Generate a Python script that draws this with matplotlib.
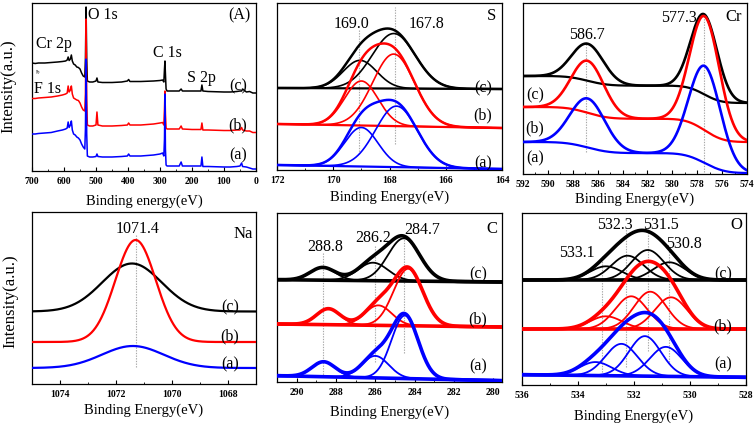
import numpy as np
import matplotlib
matplotlib.use("Agg")
import matplotlib.pyplot as plt
from matplotlib.ticker import MultipleLocator

plt.rcParams['font.family'] = ['Liberation Serif', 'DejaVu Serif']

W, H = 756, 427
BLACK, RED, BLUE = '#000000', '#ff0000', '#0000ff'
GUIDE = '#a8a8a8'

# ---------------- survey (A) ----------------
survey_ev = [700, 690, 680, 660, 640, 620, 605, 595, 590, 587,
             584, 580, 577, 574, 570, 565, 560, 555, 550, 545,
             540, 535, 533, 531, 529, 527, 520, 510, 500, 497,
             494, 480, 450, 420, 402, 398, 394, 360, 320, 300,
             292, 288, 286, 284.5, 283, 281, 278, 260, 240, 234,
             230, 200, 172, 169, 166, 150, 100, 80, 60, 50,
             45, 42, 30, 20, 10, 0]
survey_a = [37, 37, 37.5, 38, 38.5, 40, 41, 42, 43, 49,
            43.5, 46, 50, 41, 37, 36, 34, 33, 31, 27,
            24, 22, 42, 112, 37, 15, 14, 14, 14.5, 17,
            14.5, 14, 14, 14.5, 15, 17, 15, 15, 16, 17,
            18, 15, 32, 77, 22, 6, 5, 5, 5, 9,
            5, 5, 5, 14, 4.5, 4.5, 4, 4, 4.5, 5,
            8, 4.5, 4, 3, 2, 2]
survey_b = [72.5, 72.5, 73, 73.5, 74, 75, 76, 77, 78, 85,
            79, 81, 85, 77, 73, 72, 71, 70.5, 68, 64,
            61, 60, 77, 152, 72, 46, 45, 45, 46, 59,
            46, 45, 45, 45.5, 46, 48, 46, 46, 47, 48,
            48.5, 46, 62, 80, 57, 43, 42, 42, 42, 45,
            42, 41.5, 41.5, 48, 41, 41, 40.5, 40.5, 41, 41,
            43.5, 41, 40, 40, 38.5, 38.5]
survey_c = [108, 107.5, 108, 108, 108.5, 109, 109.5, 110, 111, 114,
            110.5, 112, 116, 110, 107, 106, 104, 103.5, 102, 98,
            95, 94, 112, 164, 112, 90, 89, 89, 90, 93,
            89, 88.5, 88.5, 89, 90, 91.5, 89.5, 89.5, 90, 90.5,
            91, 89, 102, 110, 97, 82, 80, 80, 80, 82,
            80, 80, 80, 86, 80, 79.5, 79, 79, 79.5, 80,
            80, 82, 79, 79.5, 78, 78]
survey_labels = ['Cr 2p', 'F 1s', 'O 1s', 'C 1s', 'S 2p']

# ---------------- S 2p ----------------
s_marks = [169.1, 167.8]
s_mark_labels = ['169.0', '167.8']
s_center = [[169.0, 167.75], [169.0, 167.85], [169.05, 167.85]]
s_amp = [[39, 61], [44.5, 72], [28, 55]]
s_fwhm = [[1.4, 1.75], [1.4, 1.75], [1.4, 1.8]]
s_base_left = [5, 46, 82]
s_base_right = [1, 42, 81]

# ---------------- Cr 2p ----------------
cr_marks = [586.9, 577.45]
cr_mark_labels = ['586.7', '577.3']
cr_center = [[586.8, 577.4], [586.8, 577.4], [586.8, 577.45]]
cr_amp = [[49, 97], [52, 114], [37, 80]]
cr_fwhm = [[3.3, 3.0], [3.1, 2.8], [3.0, 2.5]]
cr_bg_high = [32, 67, 98]
cr_bg_low = [1, 32, 71]

# ---------------- Na 1s ----------------
na_marks = [1071.3]
na_mark_labels = ['1071.4']
na_center = [1071.4, 1071.3, 1071.43]
na_amp = [22, 102, 48]
na_fwhm = [2.6, 1.7, 2.5]
na_base = [16, 42, 72.5]

# ---------------- C 1s ----------------
c_marks = [288.65, 286.02, 284.55]
c_mark_labels = ['288.8', '286.2', '284.7']
c_center = [[288.63, 286.0, 284.5], [288.39, 285.85, 284.33], [288.68, 286.12, 284.55]]
c_amp = [[15, 22, 63], [16, 20, 57], [12.7, 18, 42.7]]
c_fwhm = [[1.4, 1.6, 1.6], [1.4, 1.6, 1.75], [1.5, 1.8, 1.9]]
c_base_left = [6.3, 58, 102.3]
c_base_right = [1.3, 55, 100]

# ---------------- O 1s ----------------
o_marks = [533.13, 532.27, 531.51, 530.76]
o_mark_labels = ['533.1', '532.3', '531.5', '530.8']
o_center = [[533.37, 532.45, 531.61, 530.86], [533.0, 532.1, 531.42, 530.68],
            [533.0, 532.23, 531.51, 530.74]]
o_amp = [[13.5, 32, 40, 29.5], [12.7, 32.7, 37.3, 31.7], [13.7, 24.3, 30, 17.7]]
o_fwhm = [[1.35] * 4, [1.35] * 4, [1.35] * 4]
o_base_left = [10.3, 56, 105]
o_base_right = [7.7, 56, 105]

sample_labels = ['(a)', '(b)', '(c)']
colors = [BLUE, RED, BLACK]
zorders = [4, 3, 2]

fig = plt.figure(figsize=(W / 100, H / 100), dpi=100)


def make_ax(l, t, r, b):
    return fig.add_axes([l / W, 1 - b / H, (r - l) / W, (b - t) / H])


def style(ax, xlim, ylim, major, minor):
    ax.set_xlim(*xlim)
    ax.set_ylim(*ylim)
    ax.set_yticks([])
    ax.xaxis.set_major_locator(MultipleLocator(major))
    ax.xaxis.set_minor_locator(MultipleLocator(minor))
    ax.tick_params(axis='x', which='major', direction='in', length=3, width=0.8,
                   labelsize=7, pad=3.5)
    ax.tick_params(axis='x', which='minor', direction='in', length=1.8, width=0.6)
    for lab in ax.get_xticklabels():
        lab.set_fontweight('bold')
    for sp in ax.spines.values():
        sp.set_linewidth(0.9)


def xlabel(ax, text, yc, bottom, height):
    ax.set_xlabel(text, fontsize=10.5, va='center')
    ax.xaxis.set_label_coords(0.5, (bottom - yc) / height)


def ptext(x, y, s, size=11, **kw):
    fig.text(x / W, 1 - y / H, s, ha='center', va='center', fontsize=size, **kw)


def gauss(x, c, a, w):
    return a * np.exp(-4 * np.log(2) * ((x - c) / w) ** 2)


def fitted(ax, hi, lo, centers, amps, fwhms, bl, br, color, z,
           lw_env, lw_comp, lw_base, comps=True, base=True, shirley=False):
    x = np.linspace(hi, lo, 900)
    parts = [gauss(x, c, a, w) for c, a, w in zip(centers, amps, fwhms)]
    total = np.sum(parts, axis=0)
    if shirley:
        cum = np.cumsum(total[::-1])[::-1]
        frac = cum / cum[0]
        bg = br + (bl - br) * frac
    else:
        bg = bl + (br - bl) * (hi - x) / (hi - lo)
    if base:
        ax.plot(x, bg, color=color, lw=lw_base, zorder=z)
    if comps:
        for p in parts:
            ax.plot(x, bg + p, color=color, lw=lw_comp, zorder=z)
    ax.plot(x, bg + total, color=color, lw=lw_env, zorder=z)


def marks(ax, xs, ranges):
    for xv, (y0, y1) in zip(xs, ranges):
        ax.plot([xv, xv], [y0, y1], color=GUIDE, lw=0.8, ls=(0, (1.2, 1.2)), zorder=1)


# ---------- Panel A: survey ----------
axA = make_ax(32, 4, 256, 172)
for ys, col, z in zip([survey_a, survey_b, survey_c], colors, zorders):
    axA.plot(survey_ev, ys, color=col, lw=1.1, zorder=z)
style(axA, (700, 0), (0, 168), 100, 50)
xlabel(axA, 'Binding energy(eV)', 201.5, 172, 168)
axA.set_ylabel('Intensity(a.u.)', fontsize=12, va='center')
axA.yaxis.set_label_coords((8.5 - 32) / 224, (172 - 86) / 168)
axA.annotate('', xy=(690, 104), xytext=(676, 95),
             arrowprops=dict(arrowstyle='->', color='0.45', lw=0.6, mutation_scale=5))
ptext(54, 44, survey_labels[0], 11.5)
ptext(48, 89, survey_labels[1], 11.5)
ptext(103, 15, survey_labels[2], 11.5)
ptext(167, 53, survey_labels[3], 11.5)
ptext(201, 78, survey_labels[4], 11.5)
ptext(239, 15, '(A)', 11.5)
for lab, yy in zip(sample_labels, [155, 125, 86]):
    ptext(238, yy, lab, 11.5)

# ---------- Panel S ----------
axS = make_ax(277, 4, 502, 171)
for i in range(3):
    fitted(axS, 172, 164, s_center[i], s_amp[i], s_fwhm[i], s_base_left[i],
           s_base_right[i], colors[i], zorders[i], 1.8, 1.2, 1.6)
marks(axS, s_marks, [(16, 141), (26, 163)])
style(axS, (172, 164), (0, 167), 2, 1)
xlabel(axS, 'Binding Energy(eV)', 197, 171, 167)
ptext(352, 24, s_mark_labels[0], 11.5)
ptext(427, 24, s_mark_labels[1], 11.5)
ptext(492, 16, 'S', 12)
for lab, yy in zip(sample_labels, [163, 115, 88]):
    ptext(483, yy, lab, 11.5)

# ---------- Panel Cr ----------
axCr = make_ax(523, 4, 747, 175)
for i in range(3):
    fitted(axCr, 592, 574, cr_center[i], cr_amp[i], cr_fwhm[i], cr_bg_high[i],
           cr_bg_low[i], colors[i], zorders[i], 1.9, 1.9, 1.6, comps=False, shirley=True)
marks(axCr, cr_marks, [(22, 132), (2, 160)])
style(axCr, (592, 574), (0, 171), 2, 1)
xlabel(axCr, 'Binding Energy(eV)', 199, 175, 171)
ptext(587, 35, cr_mark_labels[0], 11.5)
ptext(679, 18, cr_mark_labels[1], 11.5)
ptext(734, 17, 'Cr', 12)
for lab, yy in zip(sample_labels, [158, 128, 95]):
    ptext(535, yy, lab, 11.5)

# ---------- Panel Na ----------
axNa = make_ax(32, 213, 256, 385)
for i in range(3):
    fitted(axNa, 1075, 1067, [na_center[i]], [na_amp[i]], [na_fwhm[i]], na_base[i],
           na_base[i], colors[i], zorders[i], 1.6, 1.6, 1.6, comps=False, base=False)
marks(axNa, na_marks, [(17, 150)])
style(axNa, (1075, 1067), (0, 172), 2, 1)
xlabel(axNa, 'Binding Energy(eV)', 410, 385, 172)
axNa.set_ylabel('Intensity(a.u.)', fontsize=12, va='center')
axNa.yaxis.set_label_coords((10 - 32) / 224, (385 - 301) / 172)
ptext(138, 229, na_mark_labels[0], 11.5)
ptext(243, 234, 'Na', 12)
for lab, yy in zip(sample_labels, [364, 336, 307]):
    ptext(230, yy, lab, 11.5)

# ---------- Panel C ----------
axC = make_ax(277, 214, 502, 383)
for i in range(3):
    fitted(axC, 291.0, 279.56, c_center[i], c_amp[i], c_fwhm[i], c_base_left[i],
           c_base_right[i], colors[i], zorders[i], 2.6, 1.3, 2.6)
marks(axC, c_marks, [(5, 130), (20, 136), (29, 147)])
style(axC, (291.0, 279.56), (0, 169), 2, 1)
xlabel(axC, 'Binding Energy(eV)', 412, 383, 169)
ptext(325, 247, c_mark_labels[0], 11.5)
ptext(373, 238, c_mark_labels[1], 11.5)
ptext(422, 230, c_mark_labels[2], 11.5)
ptext(492, 229, 'C', 12)
for lab, yy in zip(sample_labels, [366, 319, 274]):
    ptext(478, yy, lab, 11.5)

# ---------- Panel O ----------
axO = make_ax(522, 214, 746, 386)
for i in range(3):
    fitted(axO, 536, 528, o_center[i], o_amp[i], o_fwhm[i], o_base_left[i],
           o_base_right[i], colors[i], zorders[i], 2.6, 1.3, 2.6)
marks(axO, o_marks, [(13, 129), (18, 156), (34, 158), (23, 138)])
style(axO, (536, 528), (0, 172), 2, 1)
xlabel(axO, 'Binding Energy(eV)', 416, 386, 172)
ptext(577, 253, o_mark_labels[0], 11.5)
ptext(615, 225, o_mark_labels[1], 11.5)
ptext(661, 225, o_mark_labels[2], 11.5)
ptext(684, 244, o_mark_labels[3], 11.5)
ptext(736, 225, 'O', 12)
for lab, yy in zip(sample_labels, [364, 326, 274]):
    ptext(723, yy, lab, 11.5)

fig.savefig('out.png', dpi=100)
